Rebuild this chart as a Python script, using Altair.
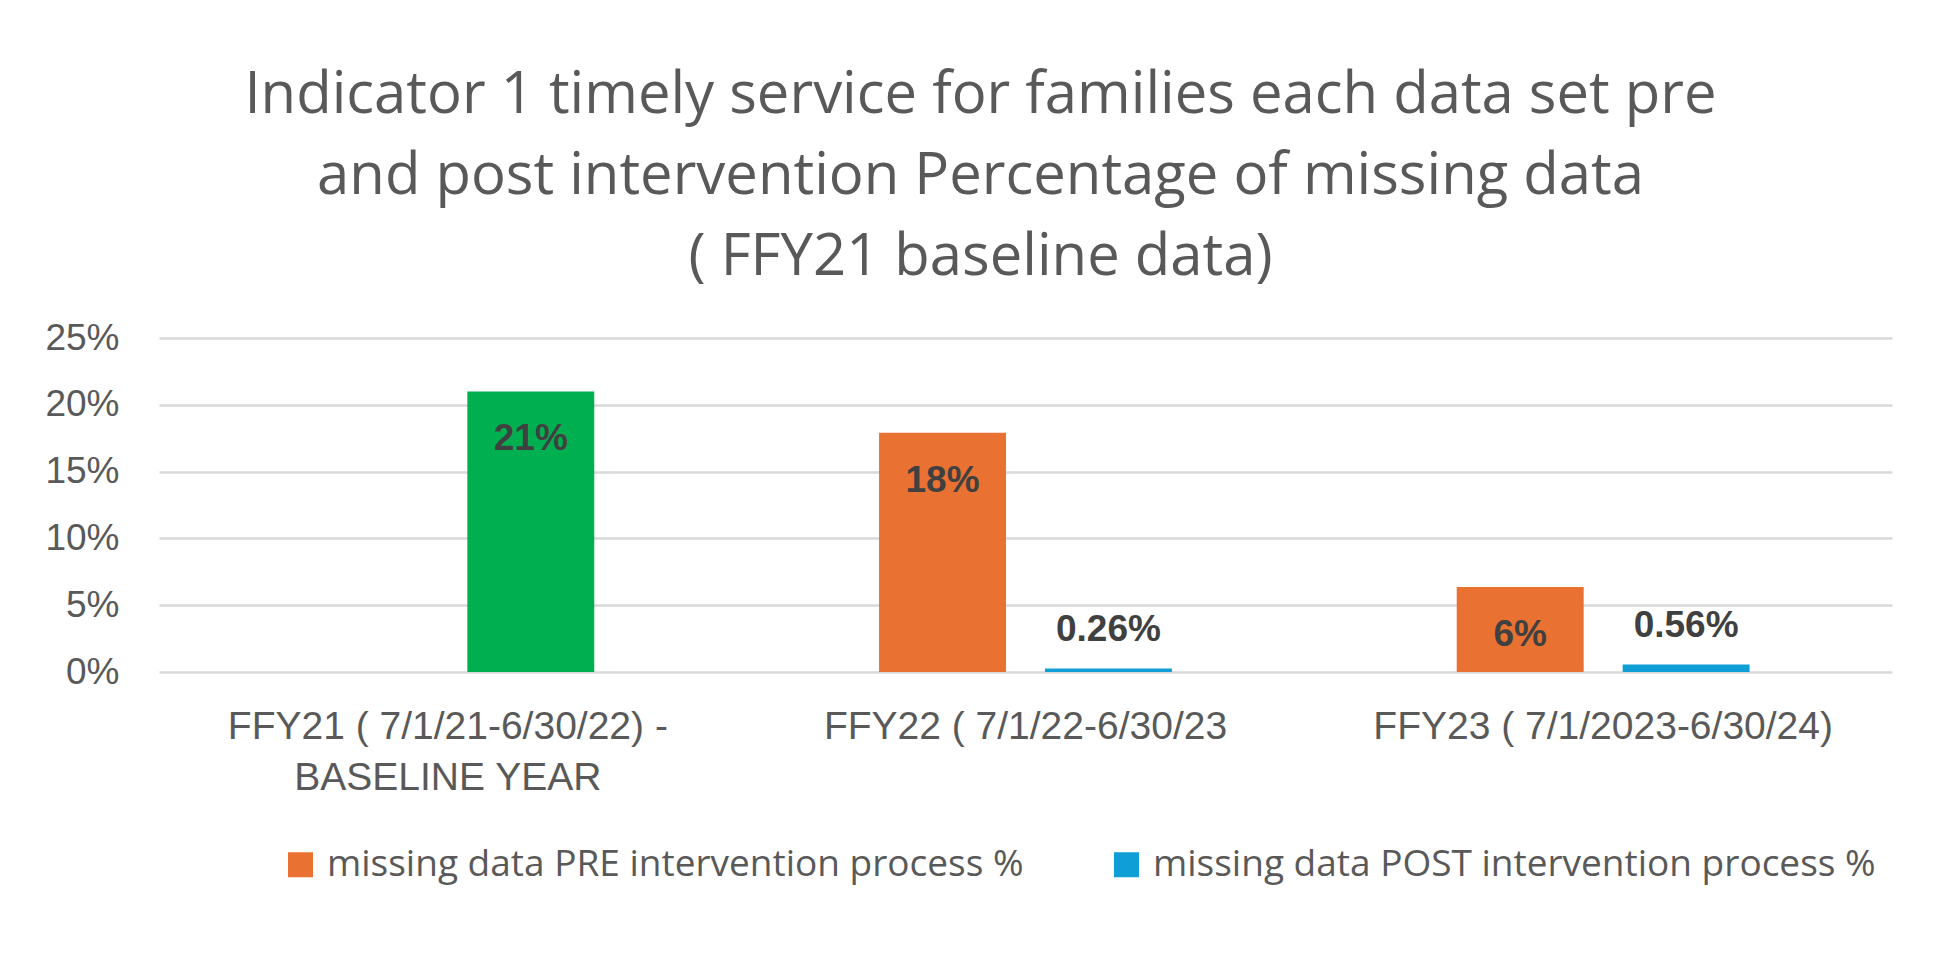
import altair as alt
import pandas as pd

categories = [
    "FFY21 ( 7/1/21-6/30/22) -\nBASELINE YEAR",
    "FFY22 ( 7/1/22-6/30/23",
    "FFY23 ( 7/1/2023-6/30/24)",
]
series_names = [
    "missing data PRE intervention process %",
    "missing data POST intervention process %",
]
pre_values = [None, 0.179, 0.0636]
post_values = [0.21, 0.0026, 0.0056]
pre_labels = [None, "18%", "6%"]
post_labels = ["21%", "0.26%", "0.56%"]
baseline_key = "baseline year"

rows = []
for i, cat in enumerate(categories):
    if pre_values[i] is not None:
        rows.append(dict(cat=cat, series=series_names[0], colorkey=series_names[0],
                         value=pre_values[i], label=pre_labels[i], inside=True))
    ck = baseline_key if i == 0 else series_names[1]
    rows.append(dict(cat=cat, series=series_names[1], colorkey=ck,
                     value=post_values[i], label=post_labels[i], inside=(i == 0)))
df = pd.DataFrame(rows)

x_enc = alt.X("cat:N", sort=categories, title=None,
              scale=alt.Scale(paddingInner=0.493, paddingOuter=0.2465),
              axis=alt.Axis(labelAngle=0, labelFont="Liberation Sans", labelFontSize=39,
                            labelColor="#595959", labelPadding=35, labelLineHeight=51,
                            labelExpr="split(datum.label, '\\n')", labelLimit=700,
                            ticks=False, domain=False, grid=False, labelBaseline="top"))
xoff = alt.XOffset("series:N", sort=series_names,
                   scale=alt.Scale(domain=series_names, paddingInner=0.235, paddingOuter=0))

base = alt.Chart(df)

bars = base.mark_bar().encode(
    x=x_enc,
    xOffset=xoff,
    y=alt.Y("value:Q", title=None,
            scale=alt.Scale(domain=[0, 0.25], nice=False),
            axis=alt.Axis(format="0%", values=[0, 0.05, 0.10, 0.15, 0.20, 0.25],
                          labelFont="Liberation Sans", labelFontSize=37, labelColor="#595959",
                          labelPadding=40, ticks=False, domain=False,
                          gridColor="#d9d9d9", gridWidth=2.5)),
    color=alt.Color("colorkey:N",
                    scale=alt.Scale(domain=series_names + [baseline_key],
                                    range=["#E97132", "#0F9ED5", "#00B050"]),
                    legend=alt.Legend(values=series_names, title=None, orient="none",
                                      direction="horizontal", columns=2,
                                      legendX=123, legendY=508,
                                      symbolType="square", symbolSize=625,
                                      symbolStrokeWidth=0, symbolOffset=0,
                                      labelFont="Open Sans", labelFontSize=37,
                                      labelColor="#595959", labelLimit=900,
                                      columnPadding=84, labelOffset=8)),
)

inside_text = base.transform_filter("datum.inside").mark_text(
    font="Liberation Sans", fontSize=37, fontWeight="bold", color="#404040",
    baseline="middle", dy=48
).encode(x=alt.X("cat:N", sort=categories), xOffset=xoff, y="value:Q", text="label:N")

outside_text = base.transform_filter("!datum.inside").mark_text(
    font="Liberation Sans", fontSize=37, fontWeight="bold", color="#404040",
    baseline="middle", dy=-39
).encode(x=alt.X("cat:N", sort=categories), xOffset=xoff, y="value:Q", text="label:N")

chart = alt.layer(bars, inside_text, outside_text).properties(
    width=1733, height=334,
    background="white",
    title=alt.TitleParams(
        text=["Indicator 1 timely service for families each data set pre",
              "and post intervention Percentage of missing data",
              "( FFY21 baseline data)"],
        font="Open Sans", fontSize=58, fontWeight="normal", color="#595959",
        lineHeight=81, anchor="middle", frame="group", dx=-45, offset=32),
    padding={"left": 151, "top": 330, "right": 40, "bottom": 290},
    autosize=alt.AutoSizeParams(type="none"),
).configure_view(stroke=None)

chart.save("out.html", embed_options={"renderer": "svg", "actions": False})
